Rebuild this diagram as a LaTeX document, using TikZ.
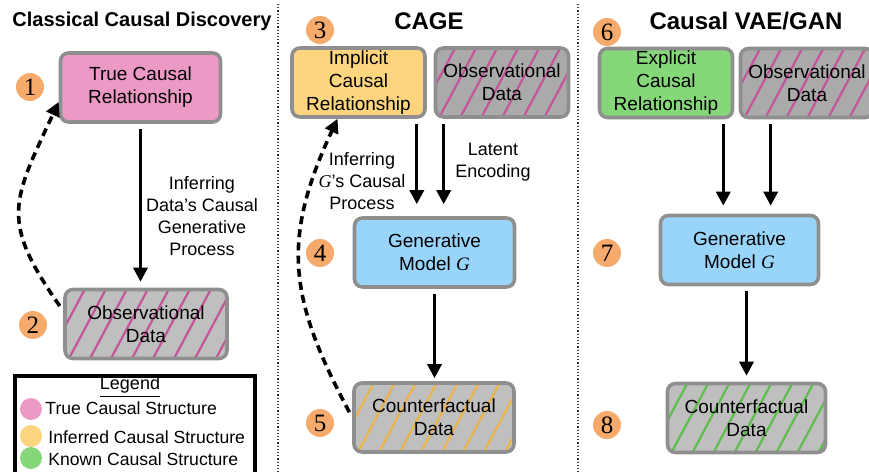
\documentclass[tikz,border=0pt]{standalone}
\usepackage{fontspec}
\setmainfont{Liberation Sans}
\newfontfamily\numfont{Liberation Serif}
\usetikzlibrary{arrows.meta,positioning,calc}

\definecolor{cborder}{HTML}{8F8F8F}
\definecolor{cpink}{HTML}{EC9AC5}
\definecolor{cyellow}{HTML}{FDD57E}
\definecolor{cgreen}{HTML}{86D67A}
\definecolor{cblue}{HTML}{99D5FA}
\definecolor{cgrayL}{HTML}{BFBFBF}
\definecolor{cgrayD}{HTML}{AAAAAA}
\definecolor{corange}{HTML}{F6AB6C}
\definecolor{chpink}{HTML}{C4559A}
\definecolor{chyellow}{HTML}{E9B44C}
\definecolor{chgreen}{HTML}{5EBD4C}

\begin{document}
\begin{tikzpicture}[
  x=0.5pt,y=0.5pt,
  box/.style={draw=cborder,line width=1.8pt,rounded corners=4pt,align=center,
    minimum width=80pt,minimum height=34.5pt,inner sep=1pt,
    font=\fontsize{9.5}{11.5}\selectfont},
  sbox/.style={box,minimum width=66.5pt},
  hatch/.style={path picture={
    \foreach \k in {-3,...,8}
      \draw[#1,line width=1.1pt] ([xshift=\k*10.5pt+2pt]path picture bounding box.south west) -- ++(62:48pt);
  }},
  num/.style={circle,fill=corange,minimum size=14pt,inner sep=0pt,
    font=\numfont\fontsize{12.5}{12.5}\selectfont},
  arr/.style={-{Triangle[width=7pt,length=7pt]},line width=1.6pt,shorten <=2.5pt,shorten >=3pt},
  dasharr/.style={-{Triangle[width=7pt,length=7pt]},line width=1.8pt,dash pattern=on 4pt off 2.6pt},
  lab/.style={align=center,font=\fontsize{9}{11}\selectfont},
  legtxt/.style={anchor=west,inner sep=0pt,font=\fontsize{8.8}{10}\selectfont},
  dot/.style={circle,minimum size=11pt,inner sep=0pt},
  ttl/.style={font=\bfseries\fontsize{12}{14}\selectfont},
  sep/.style={densely dotted,line width=0.6pt,black!75}
]
\useasboundingbox (0,0) rectangle (869,-472);
\clip (0,0) rectangle (869,-472);

% ===================== titles and separators =====================
\node[ttl,font=\bfseries\fontsize{10}{12}\selectfont] (t1) at (142,-21) {Classical Causal Discovery};
\node[ttl] (t2) at (429,-21) {CAGE};
\node[ttl] (t3) at (746,-21) {Causal VAE/GAN};

\draw[sep] (278,-4) -- (278,-472);
\draw[sep] (578,-4) -- (578,-472);

% ===================== LEFT: classical discovery =====================
\node[box,fill=cpink] (trueA) at (140.5,-87.5) {True Causal\\Relationship};
\node[box,fill=cgrayL,hatch=chpink,minimum width=81pt] (obsA) at (146,-324) {Observational\\Data};
\node[num] (n1) at (30,-87) {1};
\node[num] (n2) at (33,-325) {2};

\draw[arr] (trueA.south) -- (trueA.south |- obsA.north);
\node[lab] (infA) at (202,-216) {Inferring\\Data's Causal\\Generative\\Process};
\draw[dasharr,shorten <=3pt] (obsA.171) to[out=125,in=245,looseness=1.35] (trueA.190);

% legend
\draw[line width=1.6pt] (15,-376) rectangle (255,-480);
\node[lab] (legT) at (130,-387) {\underline{Legend}};
\node[dot,fill=cpink] (dotP) at (31,-409) {};
\node[legtxt] (legP) at (45,-408) {True Causal Structure};
\node[dot,fill=cyellow] (dotY) at (31,-436) {};
\node[legtxt] (legY) at (48,-437) {Inferred Causal Structure};
\node[dot,fill=cgreen] (dotG) at (31,-458) {};
\node[legtxt] (legG) at (48,-459) {Known Causal Structure};

% ===================== MIDDLE: CAGE =====================
\node[sbox,fill=cyellow] (implB) at (358.5,-82.5) {Implicit\\Causal\\Relationship};
\node[sbox,fill=cgrayD,hatch=chpink] (obsB) at (502,-82.5) {Observational\\Data};
\node[box,fill=cblue] (genB) at (434.5,-252.5) {Generative\\Model {\numfont\itshape G}};
\node[box,fill=cgrayL,hatch=chyellow] (cfB) at (434,-417.5) {Counterfactual\\Data};
\node[num] (n3) at (320,-30) {3};
\node[num] (n4) at (320,-253) {4};
\node[num] (n5) at (320,-423) {5};

\draw[arr,shorten >=6pt] ([xshift=-5pt]implB.south east) -- ([xshift=-5pt]implB.south east |- genB.north);
\draw[arr,shorten >=6pt] ([xshift=5pt]obsB.south west) -- ([xshift=5pt]obsB.south west |- genB.north);
\node[lab] (infB) at (362,-181) {Inferring\\{\numfont\itshape G}'s Causal\\Process};
\node[lab] (latB) at (493,-162) {Latent\\Encoding};
\draw[arr,shorten >=1.5pt] (genB.south) -- (genB.south |- cfB.north);
\draw[dasharr,shorten <=3pt] (cfB.west) to[out=118,in=245,looseness=1.15] (implB.240);

% ===================== RIGHT: causal VAE/GAN =====================
\node[sbox,fill=cgreen] (explC) at (666,-83) {Explicit\\Causal\\Relationship};
\node[sbox,fill=cgrayD,hatch=chpink] (obsC) at (807,-83) {Observational\\Data};
\node[box,fill=cblue,minimum width=79pt] (genC) at (739.5,-250) {Generative\\Model {\numfont\itshape G}};
\node[box,fill=cgrayL,hatch=chgreen,minimum width=79pt] (cfC) at (746.5,-418) {Counterfactual\\Data};
\node[num] (n6) at (607,-32) {6};
\node[num] (n7) at (607,-253) {7};
\node[num] (n8) at (607,-425) {8};

\draw[arr,shorten >=4pt] ([xshift=-5.5pt]explC.south east) -- ([xshift=-5.5pt]explC.south east |- genC.north);
\draw[arr,shorten >=4pt] ([xshift=16pt]obsC.south west) -- ([xshift=16pt]obsC.south west |- genC.north);
\draw[arr] (cfC.north |- genC.south) -- (cfC.north);

\end{tikzpicture}
\end{document}
